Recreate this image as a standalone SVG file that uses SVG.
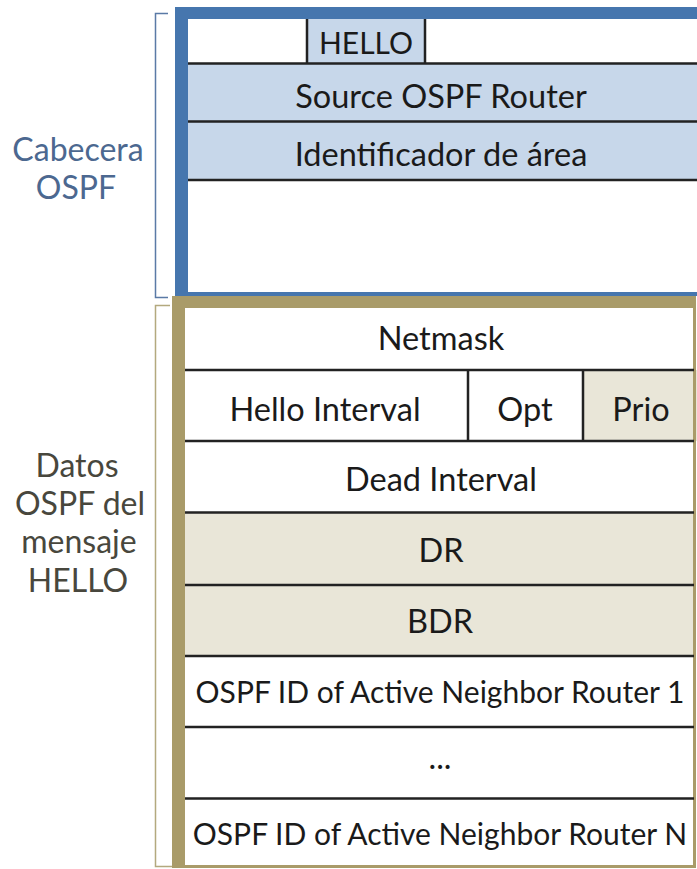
<svg xmlns="http://www.w3.org/2000/svg" width="697" height="869" viewBox="0 0 697 869">
<style>
.t{font-family:Lato,"Liberation Sans",sans-serif;font-size:32.5px;fill:#1a1a1a;text-anchor:middle}
.lb{font-family:Lato,"Liberation Sans",sans-serif;font-size:32px;text-anchor:middle}
.line{stroke:#222;stroke-width:2.5;fill:none}
.blue{fill:#c7d7ea}
.beige{fill:#e9e6d8}
</style>
<rect width="697" height="869" fill="#fff"/>
<g id="header-fills">
<rect class="blue" x="307" y="19" width="118" height="45"/>
<rect class="blue" x="188" y="64" width="509" height="116"/>
</g>
<g id="data-fills">
<rect class="beige" x="583" y="370" width="114" height="71"/>
<rect class="beige" x="185" y="512" width="510" height="144"/>
</g>
<g id="frames">
<path fill="#4676ae" fill-rule="evenodd" d="M175 7H697V296H175Z M188 19H697V292H188Z"/>
<path fill="#a99b69" fill-rule="evenodd" d="M172 296H696V868H172Z M185 308H693V865H185Z"/>
</g>
<g id="row-lines">
<path class="line" d="M188 63.5H697 M188 121.5H697 M188 180H697 M307 19V63.5 M425 19V63.5"/>
<path class="line" d="M185 370H694 M185 441H694 M185 512.5H694 M185 585H694 M185 656H694 M185 727H694 M185 798.5H694 M468 370V441 M583 370V441"/>
</g>
<g id="hello"><text class="t" x="366" y="54" style="font-size:30px">HELLO</text></g>
<g id="source-router"><text class="t" x="441" y="108">Source OSPF Router</text></g>
<g id="area-id"><text class="t" x="441" y="166">Identificador de área</text></g>
<g id="netmask"><text class="t" x="441" y="350">Netmask</text></g>
<g id="hello-interval"><text class="t" x="325" y="421">Hello Interval</text></g>
<g id="opt"><text class="t" x="525" y="421">Opt</text></g>
<g id="prio"><text class="t" x="641" y="421">Prio</text></g>
<g id="dead-interval"><text class="t" x="441" y="491">Dead Interval</text></g>
<g id="dr"><text class="t" x="441" y="562">DR</text></g>
<g id="bdr"><text class="t" x="440" y="633">BDR</text></g>
<g id="neighbor-1"><text class="t" x="440" y="703" style="font-size:30px">OSPF ID of Active Neighbor Router 1</text></g>
<g id="ellipsis"><text class="t" x="440" y="769">...</text></g>
<g id="neighbor-n"><text class="t" x="440" y="845" style="font-size:30px">OSPF ID of Active Neighbor Router N</text></g>
<g id="brackets">
<path d="M168 13.5H155.5V297.5H168" fill="none" stroke="#5a7aa6" stroke-width="1.5"/>
<path d="M170 305.5H155.5V866.5H172" fill="none" stroke="#b3a97e" stroke-width="1.5"/>
</g>
<g id="label-cabecera" class="lb" fill="#4c6890">
<text x="78" y="161">Cabecera</text>
<text x="76" y="199">OSPF</text>
</g>
<g id="label-datos" class="lb" fill="#48473d">
<text x="77" y="477">Datos</text>
<text x="80" y="515">OSPF del</text>
<text x="79" y="553">mensaje</text>
<text x="78" y="592">HELLO</text>
</g>
</svg>
